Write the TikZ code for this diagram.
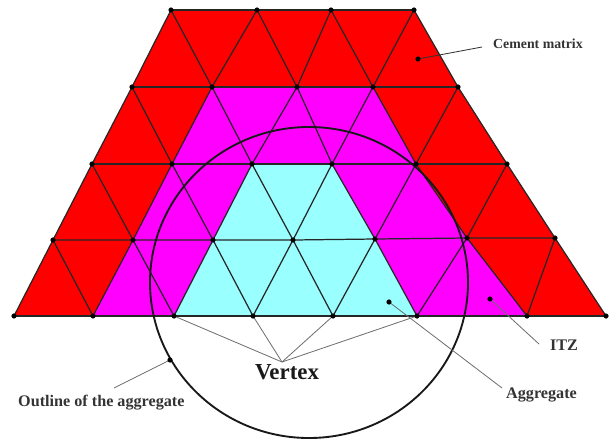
\documentclass[tikz,border=0pt]{standalone}
\usepackage{fontspec}
\setmainfont{Liberation Serif}
\definecolor{matrixred}{RGB}{255,0,0}
\definecolor{itzpink}{RGB}{255,0,255}
\definecolor{aggcyan}{RGB}{153,255,255}
\definecolor{leadergrey}{RGB}{110,110,110}
\tikzset{
    mesh/.style={line width=1.05pt, black!85},
    outline/.style={line width=1.6pt, black!90},
    leader/.style={line width=0.7pt, leadergrey},
    smalllabel/.style={font=\fontsize{13.8}{15}\selectfont\bfseries, text=black!80, inner sep=0pt}
}
\begin{document}
\begin{tikzpicture}[x=0.03cm, y=-0.03cm]
        \useasboundingbox (0, 0) rectangle (611, 440);
        % Vertices, row by row
        \coordinate (a1) at (171, 10);
        \coordinate (a2) at (257, 10);
        \coordinate (a3) at (331, 10);
        \coordinate (a4) at (414, 10);
        \coordinate (b1) at (132, 87);
        \coordinate (b2) at (212, 87);
        \coordinate (b3) at (297, 87);
        \coordinate (b4) at (373, 87);
        \coordinate (b5) at (458, 87);
        \coordinate (c0) at (92, 164);
        \coordinate (c1) at (172, 164);
        \coordinate (c2) at (252, 164);
        \coordinate (c3) at (332, 164);
        \coordinate (c4) at (416, 164);
        \coordinate (c5) at (507, 164);
        \coordinate (d1) at (53, 240);
        \coordinate (d2) at (133, 240);
        \coordinate (d3) at (213, 240);
        \coordinate (d4) at (293, 240);
        \coordinate (d5) at (375, 239);
        \coordinate (d6) at (467, 238);
        \coordinate (d7) at (555, 238);
        \coordinate (e1) at (14, 316);
        \coordinate (e2) at (93, 316);
        \coordinate (e3) at (174, 316);
        \coordinate (e4) at (253, 316);
        \coordinate (e5) at (333, 316);
        \coordinate (e6) at (417, 316);
        \coordinate (e7) at (527, 316);
        \coordinate (e8) at (606, 316);
        % Leader end points
        \coordinate (cementdot) at (418, 59);
        \coordinate (cementend) at (482, 47);
        \coordinate (itzdot) at (490, 299);
        \coordinate (itzend) at (539, 344);
        \coordinate (aggdot) at (389, 302);
        \coordinate (aggend) at (502, 388);
        \coordinate (outlinedot) at (170, 360);
        \coordinate (outlineend) at (114, 388);
        \coordinate (apex) at (282, 362);
        % Fill the three zones
        \fill[matrixred] (a1) -- (a4) -- (b5) -- (c5) -- (d7) -- (e8) -- (e1) -- (d1) -- (c0) -- (b1) -- cycle;
        \fill[itzpink] (b2) -- (b4) -- (c4) -- (d6) -- (e7) -- (e2) -- (d2) -- (c1) -- cycle;
        \fill[aggcyan] (c2) -- (c3) -- (d5) -- (e6) -- (e3) -- (d3) -- cycle;
        % Draw the horizontal edges
        \draw[mesh] (a1) -- (a2) -- (a3) -- (a4);
        \draw[mesh] (b1) -- (b2) -- (b3) -- (b4) -- (b5);
        \draw[mesh] (c0) -- (c1) -- (c2) -- (c3) -- (c4) -- (c5);
        \draw[mesh] (d1) -- (d2) -- (d3) -- (d4) -- (d5) -- (d6) -- (d7);
        \draw[mesh] (e1) -- (e2) -- (e3) -- (e4) -- (e5) -- (e6) -- (e7) -- (e8);
        % Draw the slanted edges
        \draw[mesh] (b1) -- (a1) -- (b2) -- (a2) -- (b3) -- (a3) -- (b4) -- (a4) -- (b5);
        \draw[mesh] (c0) -- (b1) -- (c1) -- (b2) -- (c2) -- (b3) -- (c3) -- (b4) -- (c4) -- (b5) -- (c5);
        \draw[mesh] (d1) -- (c0) -- (d2) -- (c1) -- (d3) -- (c2) -- (d4) -- (c3) -- (d5) -- (c4) -- (d6) -- (c5) -- (d7);
        \draw[mesh] (e1) -- (d1) -- (e2) -- (d2) -- (e3) -- (d3) -- (e4) -- (d4) -- (e5) -- (d5) -- (e6) -- (d6) -- (e7) -- (d7) -- (e8);
        % Outline of the aggregate
        \draw[outline] (309, 282.5) ellipse (159 and 155.5);
        % Leaders
        \draw[line width=0.7pt, black!80] (cementdot) -- (cementend);
        \draw[leader] (itzdot) -- (itzend);
        \draw[leader] (aggdot) -- (aggend);
        \draw[leader] (outlinedot) -- (outlineend);
        \draw[leader] (apex) -- (e3);
        \draw[leader] (apex) -- (e4);
        \draw[leader] (apex) -- (e5);
        \draw[leader] (apex) -- (e6);
        % Draw the vertices
        \foreach \v in {a1,a2,a3,a4,b1,b2,b3,b4,b5,c0,c1,c2,c3,c4,c5,d1,d2,d3,d4,d5,d6,d7,e1,e2,e3,e4,e5,e6,e7,e8,cementdot,itzdot,aggdot,outlinedot}
            \filldraw[black] (\v) circle (2.3);
        % Labels
        \node[smalllabel, font=\fontsize{11.8}{13}\selectfont\bfseries, anchor=west] (cementlabel) at (493, 44) {Cement matrix};
        \node[smalllabel] (itzlabel) at (564, 345) {ITZ};
        \node[smalllabel, anchor=west] (agglabel) at (506, 395) {Aggregate};
        \node[smalllabel, anchor=west] (outlinelabel) at (18, 403) {Outline of the aggregate};
        \node[font=\fontsize{19.5}{21}\selectfont\bfseries, text=black!90, inner sep=0pt] (vertexlabel) at (287, 372) {Vertex};
    \end{tikzpicture}
\end{document}
